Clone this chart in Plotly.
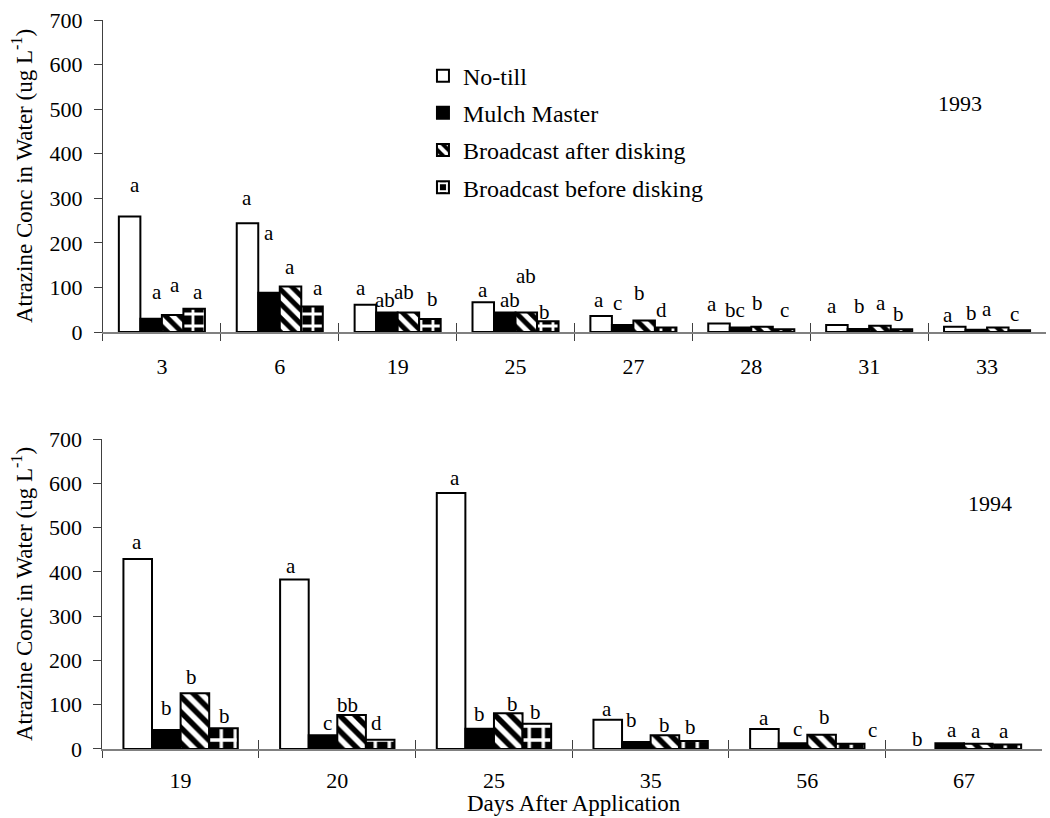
import plotly.graph_objects as go

# ---------------- data ----------------
treatments = ["No-till", "Mulch Master", "Broadcast after disking", "Broadcast before disking"]

days_1993 = ["3", "6", "19", "25", "27", "28", "31", "33"]
notill_1993 = [259, 244, 61, 67, 36, 19, 16, 12]
mulch_1993 = [30, 88, 44, 44, 16, 10, 7, 5]
after_1993 = [38, 102, 44, 44, 26, 12, 14, 10]
before_1993 = [52, 57, 29, 24, 10, 6, 6, 4]

let_notill_1993 = ["a", "a", "a", "a", "a", "a", "a", "a"]
let_mulch_1993 = ["a", "a", "ab", "ab", "c", "bc", "b", "b"]
let_after_1993 = ["a", "a", "ab", "ab", "b", "b", "a", "a"]
let_before_1993 = ["a", "a", "b", "b", "d", "c", "b", "c"]

days_1994 = ["19", "20", "25", "35", "56", "67"]
notill_1994 = [429, 383, 578, 66, 45, 0]
mulch_1994 = [43, 31, 46, 16, 13, 13]
after_1994 = [126, 77, 81, 31, 32, 12]
before_1994 = [47, 21, 57, 18, 12, 10]

let_notill_1994 = ["a", "a", "a", "a", "a", "b"]
let_mulch_1994 = ["b", "c", "b", "b", "c", "a"]
let_after_1994 = ["b", "bb", "b", "b", "b", "a"]
let_before_1994 = ["b", "d", "b", "b", "c", "a"]

y_ticks = [0, 100, 200, 300, 400, 500, 600, 700]

# ---------------- layout tweaks for letter placement (px) ----------------
dx_1993 = [[5, 0, -4, 0, -2, -7, -5, -7],
           [6, 0, -2, 5, -5, -6, 1, -5],
           [2, -1, -4, 0, -5, -5, 1, -11],
           [4, 6, 3, -3, -4, 1, -3, -5]]
dy_1993 = [[32, 25, 17, 12, 16, 20, 19, 12],
           [27, 60, 12, 12, 22, 18, 23, 17],
           [30, 20, 20, 36, 27, 24, 23, 19],
           [17, 19, 20, 9, 18, 19, 15, 16]]
dx_1994 = [[-1, -3, 4, -1, 0, -4],
           [0, 5, 0, -5, 4, 2],
           [-3, -4, 4, 0, 3, -2],
           [1, -4, -1, -3, 22, -3]]
dy_1994 = [[17, 13, 15, 11, 11, 10],
           [22, 12, 15, 22, 14, 13],
           [16, 10, 9, 10, 18, 13],
           [12, 17, 12, 14, 14, 14]]

FONT = "Liberation Serif, Times New Roman, serif"
BARGAP = 0.27


def marker_style(t, vals, big):
    widths = [0 if v == 0 else 2 for v in vals]
    m = dict(color="white" if t == 0 else "black", line=dict(color="black", width=widths))
    if t == 2:
        m["pattern"] = dict(shape="\\", fgcolor="white", bgcolor="black", fgopacity=1,
                            size=11 if big else 10, solidity=0.5)
    elif t == 3:
        m["pattern"] = dict(shape="+", fgcolor="white", bgcolor="black", fgopacity=1,
                            size=14 if big else 12, solidity=0.42)
    return m


fig = go.Figure()

series_1993 = [notill_1993, mulch_1993, after_1993, before_1993]
series_1994 = [notill_1994, mulch_1994, after_1994, before_1994]
letters_1993 = [let_notill_1993, let_mulch_1993, let_after_1993, let_before_1993]
letters_1994 = [let_notill_1994, let_mulch_1994, let_after_1994, let_before_1994]

for t, (name, vals) in enumerate(zip(treatments, series_1993)):
    fig.add_trace(go.Bar(x=days_1993, y=vals, name=name, marker=marker_style(t, vals, False),
                         xaxis="x", yaxis="y", legendgroup=name, showlegend=True))
for t, (name, vals) in enumerate(zip(treatments, series_1994)):
    fig.add_trace(go.Bar(x=days_1994, y=vals, name=name, marker=marker_style(t, vals, True),
                         xaxis="x2", yaxis="y2", legendgroup=name, showlegend=False))

annotations = []
bw = (1 - BARGAP) / 4
for t in range(4):
    for g, v in enumerate(series_1993[t]):
        annotations.append(dict(
            x=g + (t - 1.5) * bw, xref="x3", y=v, yref="y", text=letters_1993[t][g],
            showarrow=False, xanchor="center", yanchor="middle",
            xshift=dx_1993[t][g], yshift=dy_1993[t][g],
            font=dict(family=FONT, size=21, color="black")))
    for g, v in enumerate(series_1994[t]):
        annotations.append(dict(
            x=g + (t - 1.5) * bw, xref="x4", y=v, yref="y2", text=letters_1994[t][g],
            showarrow=False, xanchor="center", yanchor="middle",
            xshift=dx_1994[t][g], yshift=dy_1994[t][g],
            font=dict(family=FONT, size=21, color="black")))

ytitle = "Atrazine Conc in Water (ug L<sup>-1</sup>)"
TOP_DOM = [0.572, 1.0]
BOT_DOM = [0.0, 0.4252]
annotations += [
    dict(text=ytitle, x=0, xref="paper", xshift=-80, y=sum(TOP_DOM) / 2, yref="paper",
         textangle=-90, showarrow=False, xanchor="center", yanchor="middle",
         font=dict(family=FONT, size=23, color="black")),
    dict(text=ytitle, x=0, xref="paper", xshift=-80, y=sum(BOT_DOM) / 2, yref="paper",
         textangle=-90, showarrow=False, xanchor="center", yanchor="middle",
         font=dict(family=FONT, size=23, color="black")),
    dict(text="Days After Application", x=0.5, xref="paper", y=0, yref="paper", yshift=-54,
         showarrow=False, xanchor="center", yanchor="middle",
         font=dict(family=FONT, size=23, color="black")),
    dict(text="1993", x=0.9089, xref="paper", y=0.8848, yref="paper",
         showarrow=False, xanchor="center", yanchor="middle",
         font=dict(family=FONT, size=22, color="black")),
    dict(text="1994", x=0.9407, xref="paper", y=0.3374, yref="paper",
         showarrow=False, xanchor="center", yanchor="middle",
         font=dict(family=FONT, size=22, color="black")),
]

tickfont = dict(family=FONT, size=22, color="black")
xmain = dict(type="category", tickson="boundaries", ticks="outside", ticklen=7, tickwidth=1,
             tickcolor="#404040", showline=True, linecolor="#808080", linewidth=2,
             showgrid=False, zeroline=False, tickfont=tickfont)
ymain = dict(range=[0, 700], tickvals=y_ticks, ticks="outside", ticklen=8, tickwidth=1,
             tickcolor="#404040", showline=True, linecolor="#404040", linewidth=1,
             showgrid=False, zeroline=False, tickfont=tickfont, ticklabelstandoff=7)
xover = dict(ticks="inside", ticklen=9, tickwidth=1, tickcolor="#404040", showline=False,
             showgrid=False, zeroline=False, showticklabels=False)
yover = dict(range=[0, 700], tickvals=y_ticks, ticks="inside", ticklen=7, tickwidth=1,
             tickcolor="#404040", showline=False, showgrid=False, zeroline=False,
             showticklabels=False)

fig.update_layout(
    width=1050, height=818,
    margin=dict(l=102, r=4, t=20, b=69),
    paper_bgcolor="white", plot_bgcolor="white",
    barmode="group", bargap=BARGAP, bargroupgap=0,
    font=dict(family=FONT, color="black"),
    xaxis=dict(xmain, domain=[0.001, 1.0], anchor="y", categoryarray=days_1993,
               categoryorder="array", range=[-0.5, len(days_1993) - 0.5],
               ticklabelstandoff=14),
    yaxis=dict(ymain, domain=TOP_DOM, anchor="x"),
    xaxis2=dict(xmain, domain=[0.0003, 0.9961], anchor="y2", categoryarray=days_1994,
                categoryorder="array", range=[-0.5, len(days_1994) - 0.5],
                ticklabelstandoff=11),
    yaxis2=dict(ymain, domain=BOT_DOM, anchor="x2"),
    xaxis3=dict(xover, overlaying="x", anchor="y", range=[-0.5, len(days_1993) - 0.5],
                tickvals=[i - 0.5 for i in range(len(days_1993) + 1)]),
    yaxis3=dict(yover, overlaying="y", anchor="x"),
    xaxis4=dict(xover, overlaying="x2", anchor="y2", range=[-0.5, len(days_1994) - 0.5],
                tickvals=[i - 0.5 for i in range(len(days_1994) + 1)]),
    yaxis4=dict(yover, overlaying="y2", anchor="x2"),
    legend=dict(x=0.340, y=0.954, xanchor="left", yanchor="top", bgcolor="rgba(0,0,0,0)",
                font=dict(family=FONT, size=24, color="black"),
                traceorder="grouped", tracegroupgap=3, itemclick=False),
    annotations=annotations,
    showlegend=True,
)

fig.write_html("out.html")
